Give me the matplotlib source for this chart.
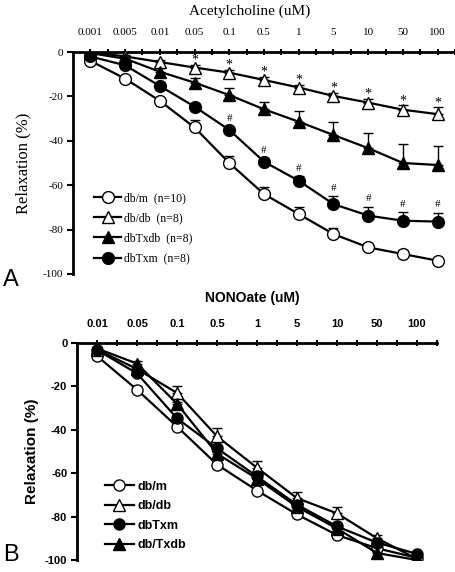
import matplotlib
matplotlib.use("Agg")
import matplotlib.pyplot as plt
import numpy as np

# ---- panel A data: acetylcholine ----
ach_doses = ["0.001", "0.005", "0.01", "0.05", "0.1", "0.5", "1", "5", "10", "50", "100"]
a_dbm = [-4, -12, -22, -34, -50, -64, -73, -82, -88, -91, -94]
a_dbm_err = [1, 1, 1, 3.5, 3, 3.4, 3.2, 2.6, 1.5, 2, 0.8]
a_dbdb = [0, -2, -4.5, -7, -9.3, -12.6, -16, -19.8, -22.8, -26, -28]
a_dbdb_err = [0.5, 0.5, 1, 1, 1, 1.2, 1.3, 1.5, 1.8, 2, 3.2]
a_dbtxdb = [-0.5, -3, -8.9, -13.8, -19.4, -25.8, -31.4, -37.4, -43.3, -50, -50.9]
a_dbtxdb_err = [0.5, 1, 1.5, 2, 3.4, 3.4, 4.8, 6, 7, 8.6, 8.6]
a_dbtxm = [-2, -6, -15.3, -24.6, -35.1, -49.4, -58, -68.5, -73.7, -76, -76.4]
a_dbtxm_err = [0.5, 1, 1, 1.2, 1.5, 1.5, 2.1, 3.5, 4, 4, 4.1]
a_star_from = 3   # '*' on db/db from 0.05 uM
a_hash_from = 4   # '#' on dbTxm from 0.1 uM

# ---- panel B data: NONOate ----
nono_doses = ["0.01", "0.05", "0.1", "0.5", "1", "5", "10", "50", "100"]
b_dbm = [-6, -21.5, -38.5, -56, -68, -79, -88.5, -94.6, -99]
b_dbm_err = [1, 1.5, 1, 1, 1, 1, 1, 1, 0.5]
b_dbdb = [-3, -12, -23, -43, -57.5, -71.5, -78.5, -90, -99.5]
b_dbdb_err = [1, 1, 3, 4, 3, 3, 3, 1.5, 0.5]
b_dbtxm = [-3.2, -14, -34.7, -48.5, -61.5, -74.5, -84.5, -92, -97.2]
b_dbtxm_err = [0.5, 1, 1, 1, 1, 1, 1, 1, 0.5]
b_dbtxdb = [-2.5, -9.5, -28, -51, -62.5, -75.5, -85.5, -96.8, -100]
b_dbtxdb_err = [0.5, 1, 1, 1, 1, 1, 1, 1, 0.5]

yticks = [0, -20, -40, -60, -80, -100]

SERIF = ["Liberation Serif", "DejaVu Serif"]
SANS = ["Liberation Sans", "DejaVu Sans"]

fig = plt.figure(figsize=(4.56, 5.72), dpi=100)
W, H = 456, 572


def px_axes(left, top, right, bottom):
    return fig.add_axes([left / W, 1 - bottom / H, (right - left) / W, (bottom - top) / H])


def style_axes(ax, labels, font, weight, xpad):
    n = len(labels)
    ax.set_xlim(-0.5, n - 0.5)
    ax.set_ylim(-100, 0)
    for s in ["right", "bottom"]:
        ax.spines[s].set_visible(False)
    for s in ["left", "top"]:
        ax.spines[s].set_linewidth(2)
    ax.xaxis.tick_top()
    ax.set_xticks(range(n))
    ax.set_xticklabels(labels, family=font, weight=weight, fontsize=8)
    ax.set_xticks(np.arange(-0.5, n, 1.0)[1:], minor=True)
    ax.tick_params(axis="x", which="both", direction="inout", length=5, width=1.5, pad=xpad)
    ax.tick_params(axis="x", which="minor", length=4)
    ax.set_yticks(yticks)
    ax.set_yticklabels([str(v) for v in yticks], family=font, weight=weight, fontsize=8)
    ax.tick_params(axis="y", direction="out", length=4, width=1.5, pad=3)


def draw_series(ax, y, err, marker, face, ms, label):
    x = np.arange(len(y))
    ax.errorbar(x, y, yerr=[np.zeros(len(err)), err], fmt="none", ecolor="black",
                elinewidth=1, capsize=3.5, capthick=1, zorder=2)
    ax.plot(x, y, color="black", lw=1.6, marker=marker, markersize=ms,
            markerfacecolor=face, markeredgecolor="black", markeredgewidth=1,
            label=label, zorder=3)


# ---------- panel A ----------
axA = px_axes(73, 52, 455, 274)
style_axes(axA, ach_doses, SERIF, "normal", 8)
draw_series(axA, a_dbm, a_dbm_err, "o", "white", 8.5, "db/m  (n=10)")
draw_series(axA, a_dbdb, a_dbdb_err, "^", "white", 9, "db/db  (n=8)")
draw_series(axA, a_dbtxdb, a_dbtxdb_err, "^", "black", 9, "dbTxdb  (n=8)")
draw_series(axA, a_dbtxm, a_dbtxm_err, "o", "black", 8.5, "dbTxm  (n=8)")

# significance marks sit just above the marker / error cap
for i in range(a_star_from, len(a_dbdb)):
    centre = max(a_dbdb[i] + a_dbdb_err[i] + 3, a_dbdb[i] + 4.5)
    axA.text(i, centre - 4, "*", ha="center", va="bottom",
             fontsize=10, family=SERIF, zorder=5)
for i in range(a_hash_from, len(a_dbtxm)):
    axA.text(i, a_dbtxm[i] + a_dbtxm_err[i] + 1.5, "#", ha="center", va="bottom",
             fontsize=8, family=SERIF, zorder=5)

axA.legend(loc="upper left", bbox_to_anchor=(0.055, 0.37), frameon=False,
           borderpad=0, borderaxespad=0, handlelength=2.3, handletextpad=0.2,
           labelspacing=0.7, prop={"family": SERIF, "size": 8.5})
axA.set_ylabel("Relaxation (%)", family=SERIF, fontsize=12, labelpad=8)
fig.text(250 / W, 1 - 11 / H, "Acetylcholine (uM)", ha="center", va="center",
         family=SERIF, fontsize=11)
fig.text(3 / W, 1 - 280 / H, "A", ha="left", va="center", family=SANS, fontsize=17)

# ---------- panel B ----------
axB = px_axes(77, 343, 437, 560)
style_axes(axB, nono_doses, SANS, "bold", 7.5)
draw_series(axB, b_dbm, b_dbm_err, "o", "white", 8, "db/m")
draw_series(axB, b_dbdb, b_dbdb_err, "^", "white", 8.5, "db/db")
draw_series(axB, b_dbtxm, b_dbtxm_err, "o", "black", 8, "dbTxm")
draw_series(axB, b_dbtxdb, b_dbtxdb_err, "^", "black", 8.5, "db/Txdb")

axB.legend(loc="upper left", bbox_to_anchor=(0.078, 0.365), frameon=False,
           borderpad=0, borderaxespad=0, handlelength=2.3, handletextpad=0.3,
           labelspacing=0.6, prop={"family": SANS, "size": 9, "weight": "bold"})
axB.set_ylabel("Relaxation (%)", family=SANS, fontsize=11, weight="bold", labelpad=4)
fig.text(252 / W, 1 - 298 / H, "NONOate (uM)", ha="center", va="center",
         family=SANS, fontsize=10, weight="bold")
fig.text(3 / W, 1 - 555 / H, "B", ha="left", va="center", family=SANS, fontsize=17)

fig.savefig("out.png", dpi=100)
